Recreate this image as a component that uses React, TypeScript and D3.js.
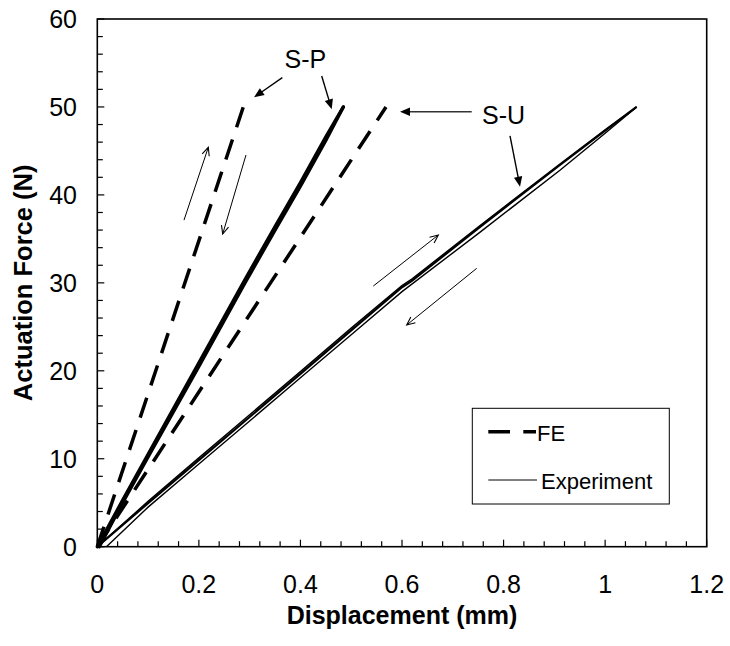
import React from 'react';
import * as d3 from 'd3';

const W = 730;
const H = 646;
const PLOT = { left: 97.3, top: 19, right: 706.7, bottom: 546.7 };
const FONT = '"Liberation Sans", Arial, Helvetica, sans-serif';

// ---- axis ticks ----
const xTickValues = [0, 0.2, 0.4, 0.6, 0.8, 1.0, 1.2];
const xTickLabels = ['0', '0.2', '0.4', '0.6', '0.8', '1', '1.2'];
const yTickValues = [0, 10, 20, 30, 40, 50, 60];
const yTickLabels = ['0', '10', '20', '30', '40', '50', '60'];
const xMinorStep = 0.04;
const yMinorStep = 2;

// ---- series (displacement mm, force N) ----
const spFE: [number, number][] = [[0, 0], [0.2875, 50]];
const suFE: [number, number][] = [[0, 0], [0.5685, 50]];
const spExpLoading: [number, number][] = [
  [0, 0], [0.05, 5.3], [0.1, 10.5], [0.2, 20.9], [0.29, 30.3], [0.35, 36.4], [0.4, 41.4], [0.45, 46.6], [0.4845, 50],
];
const spExpUnloading: [number, number][] = [
  [0.4845, 50], [0.45, 46.2], [0.4, 41.0], [0.35, 36.0], [0.29, 29.9], [0.2, 20.5], [0.1, 10.2], [0.05, 5.0], [0.004, 0],
];
const suExpLoading: [number, number][] = [
  [0, 0], [0.1, 4.95], [0.2, 9.85], [0.3, 14.75], [0.4, 19.65], [0.5, 24.6], [0.6, 29.5], [0.62, 30.25],
  [0.75, 36.2], [0.911, 43.4], [1.0, 47.3], [1.062, 50],
];
const suExpLoading2: [number, number][] = [
  [0, 0], [0.1, 5.15], [0.2, 10.1], [0.3, 15.0], [0.4, 19.9], [0.5, 24.85], [0.6, 29.7], [0.62, 30.45],
  [0.75, 36.35], [0.911, 43.5], [1.0, 47.4], [1.062, 50],
];
const suExpUnloading: [number, number][] = [
  [1.062, 50], [1.0, 47.0], [0.911, 42.8], [0.75, 35.6], [0.6, 29.0], [0.5, 24.1], [0.4, 19.2], [0.3, 14.3],
  [0.2, 9.4], [0.1, 4.5], [0.018, 0],
];

// ---- annotations (data coordinates) ----
const labelTexts = ['S-P', 'S-U'];
const labelPos: [number, number][] = [[0.4096, 54.4], [0.7999, 48.05]];
// callout arrows with filled heads: [fromX, fromY, toX, toY]
const calloutArrows: [number, number, number, number][] = [
  [0.3643, 53.33, 0.3086, 51.1],
  [0.4419, 53.52, 0.4616, 49.73],
  [0.7373, 49.46, 0.5961, 49.46],
  [0.8127, 46.7, 0.8324, 40.93],
];
// direction arrows with open heads
const directionArrows: [number, number, number, number][] = [
  [0.1707, 37.13, 0.2186, 45.41],
  [0.2928, 44.54, 0.2469, 35.55],
  [0.5435, 29.64, 0.6715, 35.44],
  [0.7471, 31.65, 0.6093, 25.21],
];

const legendNames = ['FE', 'Experiment'];

function range(start: number, stop: number, step: number) {
  const out: number[] = [];
  for (let v = start; v <= stop + 1e-9; v += step) out.push(+v.toFixed(6));
  return out;
}

export default function App() {
  const x = d3.scaleLinear().domain([0, 1.2]).range([PLOT.left, PLOT.right]);
  const y = d3.scaleLinear().domain([0, 60]).range([PLOT.bottom, PLOT.top]);
  const line = d3.line<[number, number]>().x((d) => x(d[0])).y((d) => y(d[1]));

  const xMinor = range(0, 1.2, xMinorStep);
  const yMinor = range(0, 60, yMinorStep);

  const filledHead = (x1: number, y1: number, x2: number, y2: number) => {
    const a = Math.atan2(y2 - y1, x2 - x1);
    const L = 10, hw = 4.2;
    const bx = x2 - L * Math.cos(a), by = y2 - L * Math.sin(a);
    const px = -Math.sin(a) * hw, py = Math.cos(a) * hw;
    return `${x2},${y2} ${bx + px},${by + py} ${bx - px},${by - py}`;
  };
  const openHead = (x1: number, y1: number, x2: number, y2: number) => {
    const a = Math.atan2(y2 - y1, x2 - x1);
    const L = 9, ang = 0.42;
    const p1 = [x2 - L * Math.cos(a - ang), y2 - L * Math.sin(a - ang)];
    const p2 = [x2 - L * Math.cos(a + ang), y2 - L * Math.sin(a + ang)];
    return `M${p1[0]},${p1[1]} L${x2},${y2} L${p2[0]},${p2[1]}`;
  };

  const lg = { x: 472.3, y: 408.3, w: 197, h: 95.7 };

  return (
    <svg width={W} height={H} style={{ position: 'absolute', left: 0, top: 0, background: '#fff' }} fontFamily={FONT}>
      <rect x={0} y={0} width={W} height={H} fill="#fff" />
      {/* plot frame */}
      <rect x={PLOT.left} y={PLOT.top} width={PLOT.right - PLOT.left} height={PLOT.bottom - PLOT.top} fill="none" stroke="#000" strokeWidth={1.6} />
      {/* ticks */}
      {xMinor.map((v, i) => {
        const major = xTickValues.some((t) => Math.abs(t - v) < 1e-6);
        return <line key={'xm' + i} x1={x(v)} x2={x(v)} y1={PLOT.bottom} y2={PLOT.bottom - (major ? 7 : 5.5)} stroke="#000" strokeWidth={1.2} />;
      })}
      {yMinor.map((v, i) => {
        const major = yTickValues.some((t) => Math.abs(t - v) < 1e-6);
        return <line key={'ym' + i} x1={PLOT.left} x2={PLOT.left + (major ? 7 : 5.5)} y1={y(v)} y2={y(v)} stroke="#000" strokeWidth={1.2} />;
      })}
      {xTickValues.map((v, i) => (
        <text key={'xt' + i} x={x(v)} y={593} textAnchor="middle" fontSize={25} fill="#000">{xTickLabels[i]}</text>
      ))}
      {yTickValues.map((v, i) => (
        <text key={'yt' + i} x={77} y={y(v)} dy="0.36em" textAnchor="end" fontSize={25} fill="#000">{yTickLabels[i]}</text>
      ))}
      <text x={(PLOT.left + PLOT.right) / 2} y={623.5} textAnchor="middle" fontSize={25} fontWeight="bold">Displacement (mm)</text>
      <text transform={`translate(32,${(PLOT.top + PLOT.bottom) / 2}) rotate(-90)`} textAnchor="middle" fontSize={25.5} fontWeight="bold">Actuation Force (N)</text>

      {/* series */}
      <path d={line(suExpUnloading) || ''} fill="none" stroke="#000" strokeWidth={1.4} />
      <path d={line(suExpLoading2) || ''} fill="none" stroke="#000" strokeWidth={1.5} />
      <path d={line(suExpLoading) || ''} fill="none" stroke="#000" strokeWidth={2.2} />
      <path d={line(spExpUnloading) || ''} fill="none" stroke="#000" strokeWidth={3.3} strokeLinecap="round" />
      <path d={line(spExpLoading) || ''} fill="none" stroke="#000" strokeWidth={3.3} strokeLinecap="round" />
      <path d={line(spFE) || ''} fill="none" stroke="#000" strokeWidth={3.5} strokeDasharray="21,13" />
      <path d={line(suFE) || ''} fill="none" stroke="#000" strokeWidth={3.5} strokeDasharray="21,13" />

      {/* annotations */}
      {labelTexts.map((t, i) => (
        <text key={'lb' + i} x={x(labelPos[i][0])} y={y(labelPos[i][1])} textAnchor="middle" fontSize={25}>{t}</text>
      ))}
      {calloutArrows.map((a, i) => {
        const x1 = x(a[0]), y1 = y(a[1]), x2 = x(a[2]), y2 = y(a[3]);
        const ang = Math.atan2(y2 - y1, x2 - x1);
        return (
          <g key={'ca' + i}>
            <line x1={x1} y1={y1} x2={x2 - 8 * Math.cos(ang)} y2={y2 - 8 * Math.sin(ang)} stroke={i === 2 ? '#333' : '#000'} strokeWidth={1.4} />
            <polygon points={filledHead(x1, y1, x2, y2)} fill="#000" />
          </g>
        );
      })}
      {directionArrows.map((a, i) => {
        const x1 = x(a[0]), y1 = y(a[1]), x2 = x(a[2]), y2 = y(a[3]);
        return (
          <g key={'da' + i}>
            <line x1={x1} y1={y1} x2={x2} y2={y2} stroke="#000" strokeWidth={1} />
            <path d={openHead(x1, y1, x2, y2)} fill="none" stroke="#000" strokeWidth={1.1} />
          </g>
        );
      })}

      {/* legend */}
      <rect x={lg.x} y={lg.y} width={lg.w} height={lg.h} fill="#fff" stroke="#000" strokeWidth={1} />
      <line x1={488.3} x2={536} y1={431.7} y2={431.7} stroke="#000" strokeWidth={3.5} strokeDasharray="21.7,13.3" />
      <text x={537} y={441} fontSize={22}>{legendNames[0]}</text>
      <line x1={488.3} x2={537} y1={480} y2={480} stroke="#000" strokeWidth={1} />
      <text x={541} y={489} fontSize={22}>{legendNames[1]}</text>
    </svg>
  );
}
